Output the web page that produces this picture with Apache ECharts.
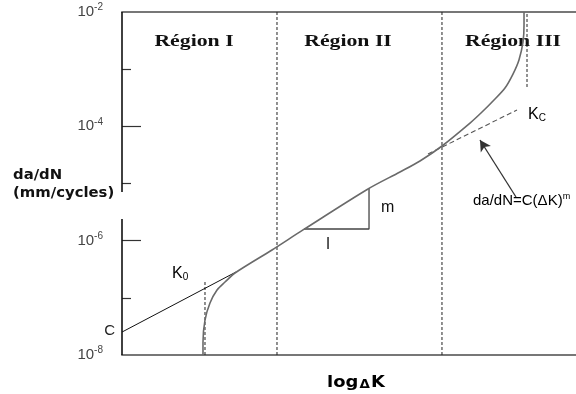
<!DOCTYPE html>
<html>
<head>
<meta charset="utf-8">
<script src="https://cdn.jsdelivr.net/npm/echarts@6/dist/echarts.min.js"></script>
<style>
  html, body { margin: 0; padding: 0; background: #fff; }
  #chart { width: 576px; height: 394px; }
</style>
</head>
<body>
<div id="chart"></div>
<script>
// Fatigue crack growth curve: da/dN against log ΔK (three regions)

// main growth curve
const curveK    = [1.784, 1.784, 1.828, 1.938, 2.093, 2.269, 2.489, 3.304, 3.987, 5.419, 6.123, 6.564, 7.048, 7.665, 7.930, 8.194, 8.436, 8.612, 8.744, 8.833, 8.855, 8.855];
const curveRate = [1.0e-8, 1.69e-8, 4.09e-8, 8.13e-8, 1.37e-7, 1.89e-7, 2.72e-7, 6.87e-7, 1.54e-6, 8.02e-6, 1.59e-5, 2.48e-5, 4.53e-5, 1.14e-4, 1.78e-4, 2.89e-4, 4.69e-4, 8.22e-4, 1.45e-3, 2.99e-3, 5.93e-3, 1.0e-2];

// Paris law line starting at C, and its dashed extension in region III
const parisK    = [0, 2.511];
const parisRate = [2.52e-8, 2.83e-7];
const extK      = [6.740, 8.700];
const extRate   = [3.28e-5, 1.93e-4];

// region boundaries and thresholds
const regionBounds = [3.414, 7.048];
const k0Line = { k: 1.828, from: 1.0e-8, to: 2.05e-7 };
const kcLine = { k: 8.921, from: 4.88e-4, to: 1.0e-2 };

// slope triangle (l horizontal, m vertical)
const triK    = [4.009, 5.441, 5.441];
const triRate = [1.60e-6, 1.60e-6, 8.34e-6];

// arrow pointing at the extension line
const arrowFrom = [8.678, 5.81e-6];
const arrowTo   = [7.885, 5.77e-5];

// axis
const yMin = 1e-8, yMax = 1e-2;
const labelTicks = [1e-8, 1e-6, 1e-4, 1e-2];
const majorTicks = [1e-6, 1e-4];
const minorTicks = [1e-7, 1e-5, 1e-3];
const axisSegments = [[1e-8, 2.39e-6], [7.10e-6, 1e-2]];

const zip = (xs, ys) => xs.map((x, i) => [x, ys[i]]);

function lineSeries(data, style, extra) {
  return Object.assign({
    type: 'line', data: data, showSymbol: false, symbol: 'none',
    lineStyle: style, silent: true, animation: false, z: 3
  }, extra || {});
}

const series = [];

// left axis drawn in two pieces
axisSegments.forEach(seg => {
  series.push(lineSeries([[0, seg[0]], [0, seg[1]]], { color: '#111', width: 1.6 }, { clip: false, z: 5 }));
});

regionBounds.forEach(k => {
  series.push(lineSeries([[k, yMin], [k, yMax]], { color: '#222', width: 1, type: [3, 2] }));
});
series.push(lineSeries([[k0Line.k, k0Line.from], [k0Line.k, k0Line.to]], { color: '#222', width: 1, type: [3, 2] }));
series.push(lineSeries([[kcLine.k, kcLine.from], [kcLine.k, kcLine.to]], { color: '#222', width: 1, type: [3, 2] }));

series.push(lineSeries(zip(parisK, parisRate), { color: '#111', width: 1 }));
series.push(lineSeries(zip(extK, extRate), { color: '#555', width: 1.1, type: [5, 3] }));
series.push(lineSeries(zip(triK, triRate), { color: '#444', width: 1.3 }));
series.push(lineSeries(zip(curveK, curveRate), { color: '#6a6a6a', width: 1.6 }, { smooth: 0.3, z: 4 }));

// arrow
series.push({
  type: 'line', data: [], silent: true, animation: false,
  markLine: {
    silent: true, animation: false,
    symbol: ['none', 'arrow'], symbolSize: [9, 11],
    label: { show: false },
    lineStyle: { color: '#333', width: 1.3, type: 'solid' },
    data: [[{ coord: arrowFrom }, { coord: arrowTo }]]
  }
});

const supRich = {
  b: { fontFamily: 'Liberation Sans', fontSize: 15, color: '#444' },
  s: { fontFamily: 'Liberation Sans', fontSize: 10, color: '#444', verticalAlign: 'top', padding: [0, 0, 9, 0] }
};

const option = {
  animation: false,
  backgroundColor: '#fff',
  grid: { left: 122, right: 0, top: 12, bottom: 39, containLabel: false },
  xAxis: [
    { type: 'value', min: 0, max: 10, position: 'bottom',
      axisLine: { show: true, onZero: false, lineStyle: { color: '#777', width: 2 } },
      axisTick: { show: false }, axisLabel: { show: false }, splitLine: { show: false } },
    { type: 'value', min: 0, max: 10, position: 'top',
      axisLine: { show: true, onZero: false, lineStyle: { color: '#777', width: 2 } },
      axisTick: { show: false }, axisLabel: { show: false }, splitLine: { show: false } }
  ],
  yAxis: [
    { type: 'log', logBase: 10, min: yMin, max: yMax, position: 'left',
      axisLine: { show: false },
      axisTick: { show: true, inside: true, length: 19, customValues: majorTicks, lineStyle: { color: '#333', width: 1.2 } },
      axisLabel: {
        show: true, margin: 19, customValues: labelTicks,
        formatter: v => '{b|10}{s|' + Math.round(Math.log10(v)) + '}',
        rich: supRich
      },
      splitLine: { show: false } },
    { type: 'log', logBase: 10, min: yMin, max: yMax, position: 'left', offset: 0,
      axisLine: { show: false },
      axisTick: { show: true, inside: true, length: 9, customValues: minorTicks, lineStyle: { color: '#333', width: 1.2 } },
      axisLabel: { show: false }, splitLine: { show: false } }
  ],
  series: series,
  graphic: [
    { type: 'text', x: 194, y: 42, scaleX: 1.28, style: { text: 'Région I', font: 'bold 17px "Liberation Serif"', fill: '#111', align: 'center', verticalAlign: 'middle' } },
    { type: 'text', x: 348, y: 42, scaleX: 1.28, style: { text: 'Région II', font: 'bold 17px "Liberation Serif"', fill: '#111', align: 'center', verticalAlign: 'middle' } },
    { type: 'text', x: 513, y: 42, scaleX: 1.28, style: { text: 'Région III', font: 'bold 17px "Liberation Serif"', fill: '#111', align: 'center', verticalAlign: 'middle' } },
    { type: 'text', x: 13, y: 175, scaleX: 1.1, style: { text: 'da/dN', font: 'bold 13.5px "DejaVu Sans"', fill: '#111', align: 'left', verticalAlign: 'middle' } },
    { type: 'text', x: 13, y: 193, scaleX: 1.1, style: { text: '(mm/cycles)', font: 'bold 13.5px "DejaVu Sans"', fill: '#111', align: 'left', verticalAlign: 'middle' } },
    { type: 'text', x: 356, y: 383, scaleX: 1.12, style: { text: '{t|log}{d|Δ}{t|K}', align: 'center', verticalAlign: 'middle',
        rich: { t: { fontFamily: 'DejaVu Sans', fontWeight: 'bold', fontSize: 16, color: '#111' }, d: { fontFamily: 'DejaVu Sans', fontWeight: 'bold', fontSize: 12, color: '#111', padding: [3, 1, 0, 1] } } } },
    { type: 'text', x: 115, y: 331, style: { text: 'C', font: '15px "Liberation Sans"', fill: '#222', align: 'right', verticalAlign: 'middle' } },
    { type: 'text', x: 172, y: 274, style: { text: '{k|K}{s|0}', align: 'left', verticalAlign: 'middle',
        rich: { k: { fontFamily: 'Liberation Sans', fontSize: 16, color: '#111' }, s: { fontFamily: 'Liberation Sans', fontSize: 10, color: '#111', verticalAlign: 'bottom', padding: [6, 0, 0, 0] } } } },
    { type: 'text', x: 528, y: 115, style: { text: '{k|K}{s|C}', align: 'left', verticalAlign: 'middle',
        rich: { k: { fontFamily: 'Liberation Sans', fontSize: 16, color: '#111' }, s: { fontFamily: 'Liberation Sans', fontSize: 10, color: '#111', verticalAlign: 'bottom', padding: [6, 0, 0, 0] } } } },
    { type: 'text', x: 381, y: 208, style: { text: 'm', font: '16px "Liberation Sans"', fill: '#111', align: 'left', verticalAlign: 'middle' } },
    { type: 'text', x: 328, y: 245, style: { text: 'l', font: '16px "Liberation Sans"', fill: '#111', align: 'center', verticalAlign: 'middle' } },
    { type: 'text', x: 473, y: 201, style: { text: '{t|da/dN=C(ΔK)}{s|m}', align: 'left', verticalAlign: 'middle',
        rich: { t: { fontFamily: 'Liberation Sans', fontSize: 15, color: '#222' }, s: { fontFamily: 'Liberation Sans', fontSize: 9, color: '#222', verticalAlign: 'top', padding: [0, 0, 8, 0] } } } }
  ]
};

const chart = echarts.init(document.getElementById('chart'), null, { renderer: 'canvas' });
chart.setOption(option);
</script>
</body>
</html>
